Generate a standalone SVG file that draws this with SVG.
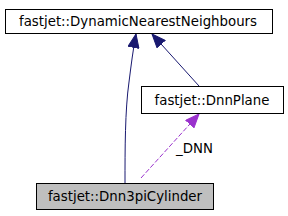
<svg xmlns="http://www.w3.org/2000/svg" width="288" height="216" viewBox="0 0 288 216">
<style>
text{font-family:"DejaVu Sans",sans-serif;font-size:13.33px;fill:#000}
.box{fill:#fff;stroke:#000;stroke-width:1}
.e{fill:none;stroke:#191970;stroke-width:1}
.d{fill:none;stroke:#9a32cd;stroke-width:1;stroke-dasharray:5,2}
</style>
<defs>
<marker id="ab" markerWidth="15" markerHeight="12" refX="14" refY="6" orient="auto" markerUnits="userSpaceOnUse"><path d="M0.5,0.5 L14,6 L0.5,11.5 z" fill="#191970" stroke="#191970"/></marker>
<marker id="ap" markerWidth="15" markerHeight="12" refX="14" refY="6" orient="auto" markerUnits="userSpaceOnUse"><path d="M0.5,0.5 L14,6 L0.5,11.5 z" fill="#9a32cd" stroke="#9a32cd"/></marker>
</defs>
<g id="connectors">
<path class="e" d="M125,183 C125,150 125,110 129,82 C131,66 133,50 136,34" marker-end="url(#ab)"/>
<path class="e" d="M199,86 L152,34" marker-end="url(#ab)"/>
<path class="d" d="M141,178 L199,114" marker-end="url(#ap)"/>
<text x="176" y="153">_DNN</text>
</g>
<g id="DynamicNearestNeighbours">
<rect class="box" x="5.5" y="9.5" width="267" height="24"/>
<text x="138" y="26" text-anchor="middle">fastjet::DynamicNearestNeighbours</text>
</g>
<g id="DnnPlane">
<rect class="box" x="141.5" y="86.5" width="142" height="27"/>
<text x="212" y="105" text-anchor="middle">fastjet::DnnPlane</text>
</g>
<g id="Dnn3piCylinder">
<rect class="box" x="36.5" y="183.5" width="177" height="26" style="fill:#bfbfbf"/>
<text x="125" y="201" text-anchor="middle">fastjet::Dnn3piCylinder</text>
</g>
</svg>
